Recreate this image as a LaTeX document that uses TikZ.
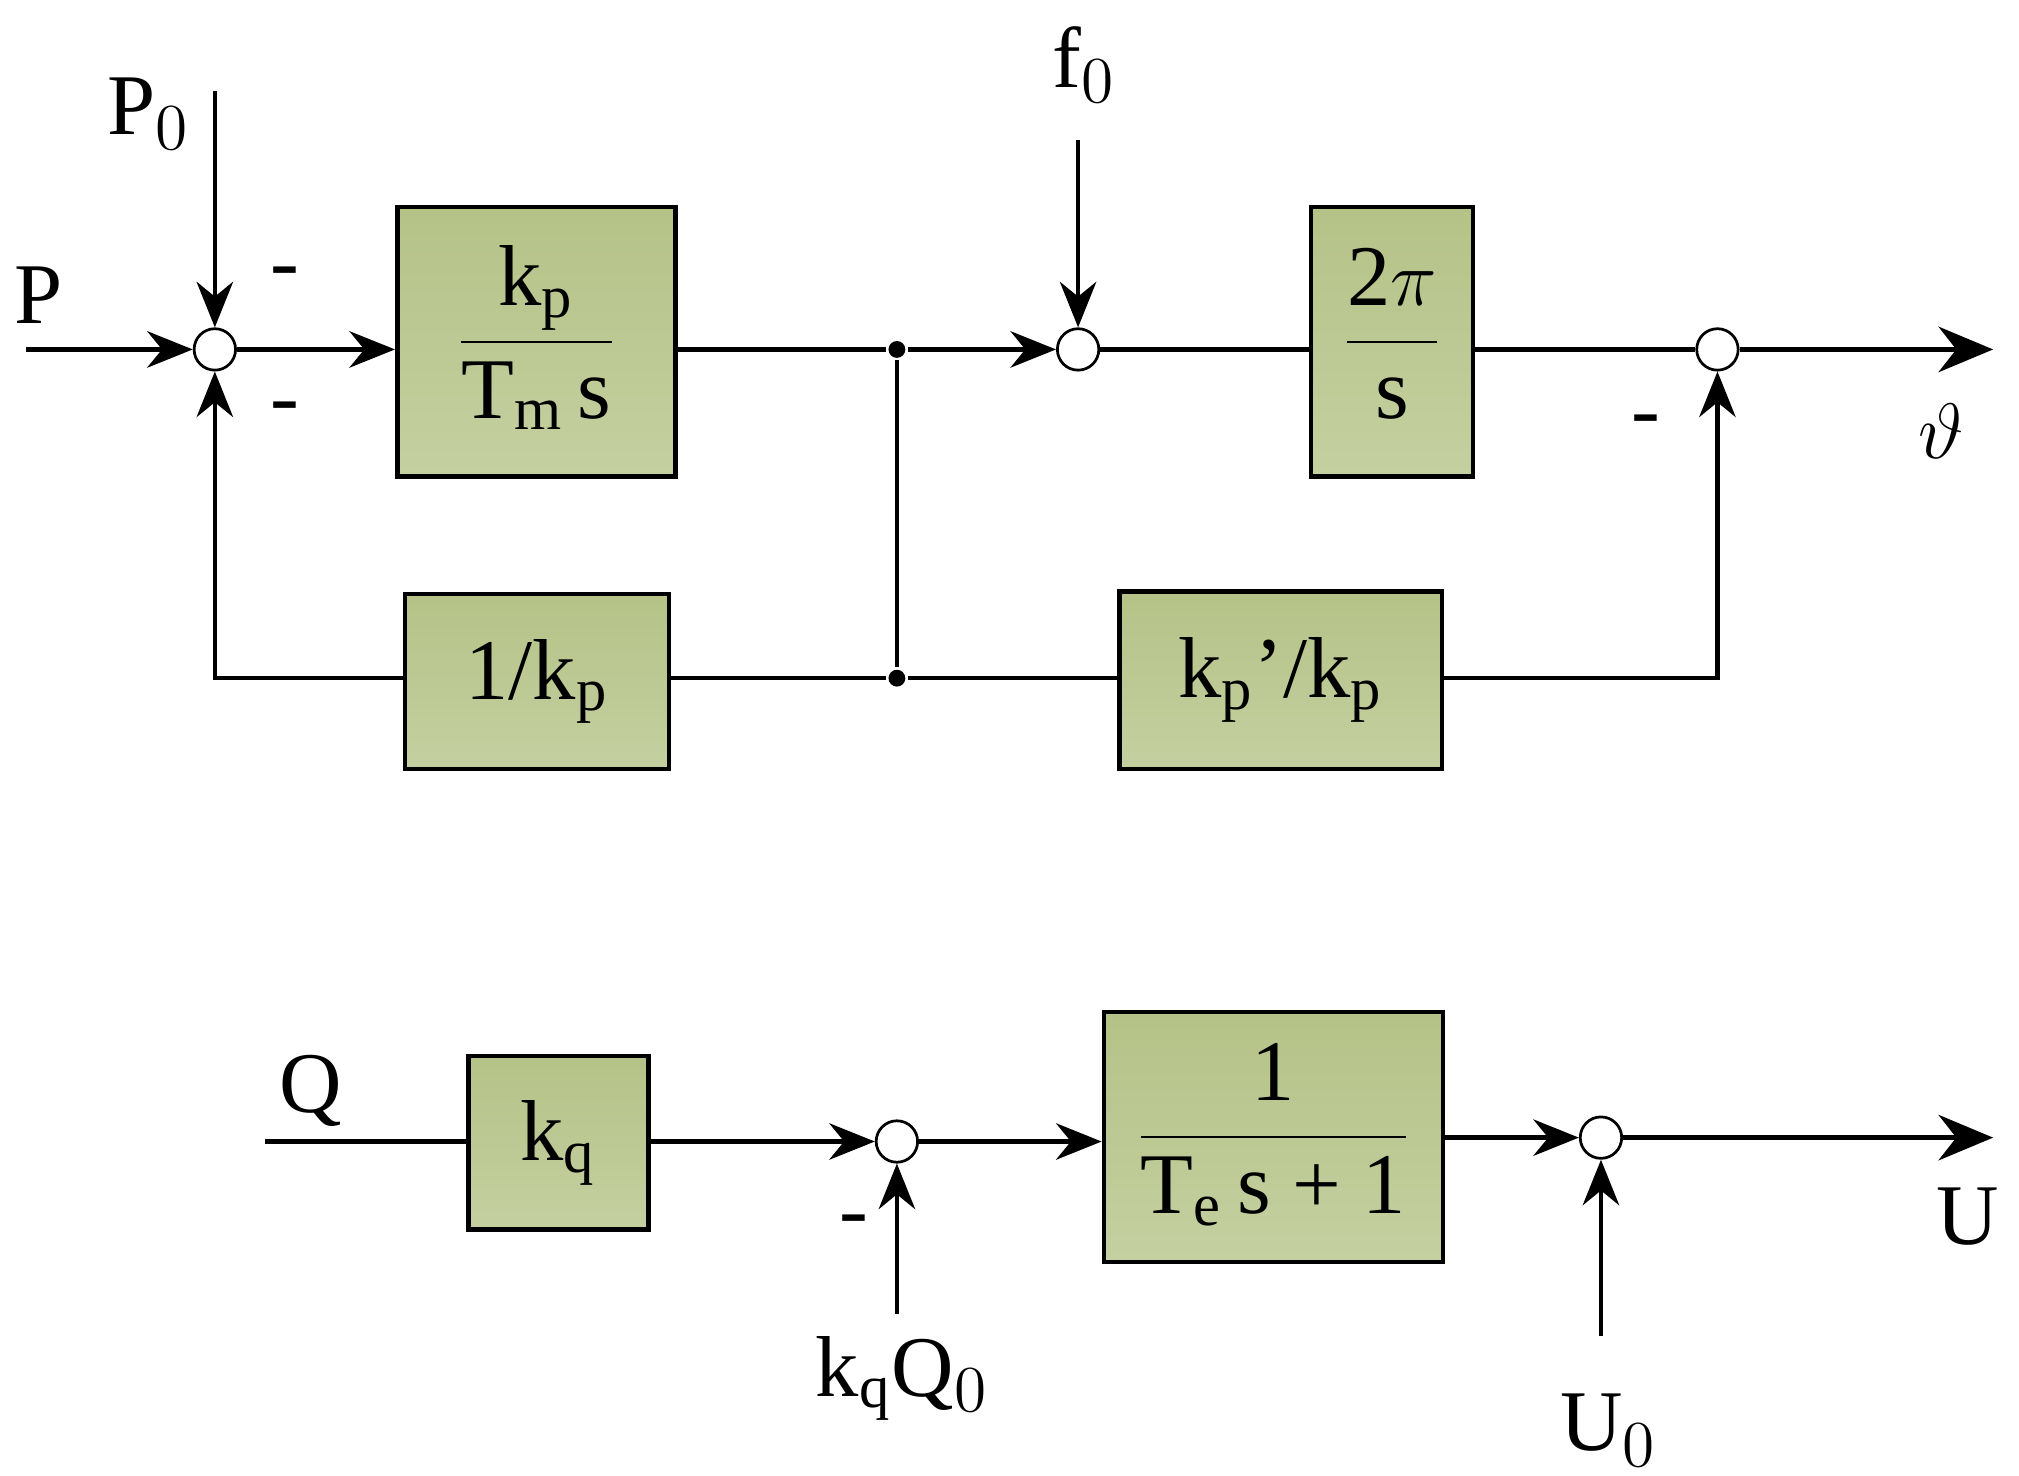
\documentclass[tikz,border=0pt]{standalone}
\usepackage{fontspec}
\setmainfont{Liberation Serif}
\usetikzlibrary{arrows.meta}
\newcommand{\fr}[2]{$\displaystyle\frac{\mbox{\strut #1}}{\mbox{\strut #2}}$}
\begin{document}
\begin{tikzpicture}[x=0.01cm,y=-0.01cm,
 blk/.style={draw=black,line width=1pt,top color={rgb,255:red,181;green,194;blue,135},bottom color={rgb,255:red,196;green,208;blue,160},inner sep=0pt},
 sj/.style={circle,draw=black,fill=white,minimum size=0.32cm,inner sep=0pt,line width=0.6pt},
 dot/.style={circle,fill=black,minimum size=0.13cm,inner sep=0pt},
 ar/.style={-{Stealth[length=10pt,width=8pt]}},
 bar/.style={-{Stealth[length=12pt,width=10pt]}},
 lab/.style={font=\fontsize{19}{22}\selectfont,inner sep=0pt},
 txt/.style={font=\fontsize{19}{22}\selectfont},
 every path/.style={line width=1pt}]
\useasboundingbox (0,0) rectangle (1560,1140);
% nodes
\node[sj] (s1) at (166,270) {};
\node[sj] (s2) at (833,270) {};
\node[sj] (s3) at (1327,270) {};
\node[sj] (s4) at (693,882) {};
\node[sj] (s5) at (1237,879) {};
\node[dot] (d1) at (693,270) {};
\node[dot] (d2) at (693,524) {};
\node[blk,minimum width=2.15cm,minimum height=2.08cm,txt] (b1) at (414.5,264) {\fr{k$_\mathrm{p}$}{T$_\mathrm{m}$\,s}};
\node[blk,minimum width=1.25cm,minimum height=2.08cm,txt] (b2) at (1075.5,264) {\fr{2$\pi$}{s}};
\node[blk,minimum width=2.04cm,minimum height=1.35cm,txt] (b3) at (415,526.5) {1/k$_\mathrm{p}$};
\node[blk,minimum width=2.49cm,minimum height=1.37cm,txt] (b4) at (989.5,525.5) {k$_\mathrm{p}$'/k$_\mathrm{p}$};
\node[blk,minimum width=1.39cm,minimum height=1.34cm,txt] (b5) at (431.5,883) {k$_\mathrm{q}$};
\node[blk,minimum width=2.62cm,minimum height=1.93cm,txt] (b6) at (984,878.5) {\fr{1}{T$_\mathrm{e}$\,s + 1}};
\coordinate (pin) at (20,270);
\coordinate (p0in) at (166,70);
\coordinate (f0in) at (833,108);
\coordinate (thout) at (1540,270);
\coordinate (qin) at (205,882);
\coordinate (uout) at (1540,879);
\coordinate (kqin) at (693,1015);
\coordinate (u0in) at (1237,1032);
\coordinate (c1) at (166,524);
\coordinate (c2) at (1327,524);
% labels
\node[lab] at (30,228) {P};
\node[lab] at (115,88) {P$_0$};
\node[lab] at (838,50) {f$_0$};
\node[lab] at (1500,333) {$\vartheta$};
\node[lab] at (240,843) {Q};
\node[lab] at (1520,940) {U};
\node[lab] at (697,1065) {k$_\mathrm{q}$Q$_0$};
\node[lab] at (1243,1105) {U$_0$};
\node[lab] at (220,215) {-};
\node[lab] at (220,320) {-};
\node[lab] at (1272,330) {-};
\node[lab] at (660,948) {-};
% connectors
\draw[ar] (pin) -- (s1);
\draw[ar] (p0in) -- (s1);
\draw[ar] (s1) -- (b1.west|-s1);
\draw (b1.east|-d1) -- (d1);
\draw[ar] (d1) -- (s2);
\draw[ar] (f0in) -- (s2);
\draw (s2) -- (b2.west|-s2);
\draw (b2.east|-s3) -- (s3);
\draw[bar] (s3) -- (thout);
\draw (d1) -- (d2);
\draw (d2) -- (b3.east|-d2);
\draw[ar] (b3.west|-c1) -- (c1) -- (s1);
\draw (d2) -- (b4.west|-d2);
\draw[ar] (b4.east|-c2) -- (c2) -- (s3);
\draw (qin) -- (b5.west|-qin);
\draw[ar] (b5.east|-s4) -- (s4);
\draw[ar] (s4) -- (b6.west|-s4);
\draw[ar] (b6.east|-s5) -- (s5);
\draw[bar] (s5) -- (uout);
\draw[ar] (kqin) -- (s4);
\draw[ar] (u0in) -- (s5);
\end{tikzpicture}
\end{document}
